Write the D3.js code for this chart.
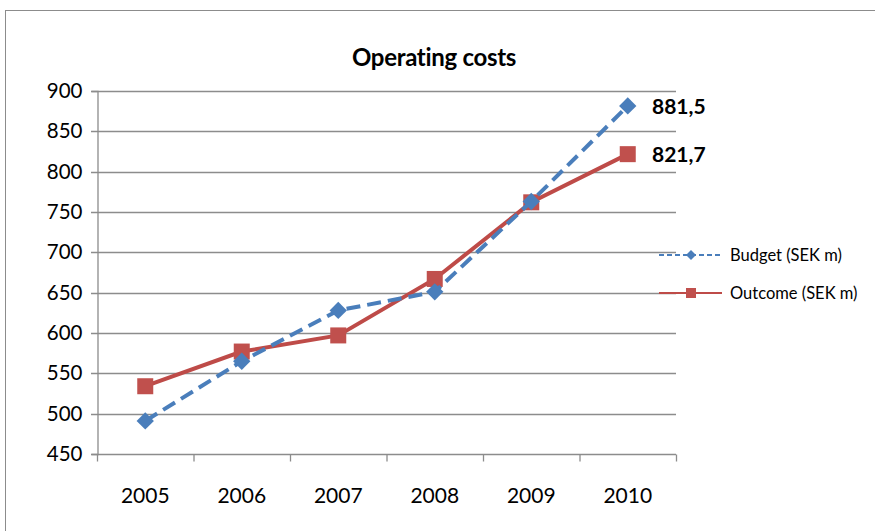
<!DOCTYPE html>
<html>
<head>
<meta charset="utf-8">
<script src="https://cdn.jsdelivr.net/npm/d3@7"></script>
<style>
  body { margin: 0; background: #fff; }
  svg { display: block; font-family: Lato, "Open Sans", sans-serif; }
</style>
</head>
<body>
<svg id="chart" width="875" height="531"></svg>
<script>
// chart data
var years = ['2005', '2006', '2007', '2008', '2009', '2010'];
var budget = [491, 565, 628, 651, 763, 881.5];
var outcome = [534, 577, 597, 667, 762, 821.7];
var yTicks = [450, 500, 550, 600, 650, 700, 750, 800, 850, 900];
var endLabels = ['881,5', '821,7'];

var svg = d3.select('#chart');
var plot = { left: 97, right: 676, top: 91, bottom: 454 };

// outer frame (right and bottom edges sit outside the window)
svg.append('rect')
  .attr('x', 5.5).attr('y', 10.5)
  .attr('width', 900).attr('height', 600)
  .attr('fill', 'none').attr('stroke', '#8c8c8c').attr('stroke-width', 1);

var x = d3.scaleBand().domain(years).range([plot.left, plot.right]);
var y = d3.scaleLinear().domain([450, 900]).range([plot.bottom, plot.top]);

// grid lines
svg.append('g').selectAll('line')
  .data(yTicks)
  .enter().append('line')
  .attr('x1', plot.left - 6).attr('x2', plot.right)
  .attr('y1', function(d) { return Math.round(y(d)) + 0.5; })
  .attr('y2', function(d) { return Math.round(y(d)) + 0.5; })
  .attr('stroke', '#8c8c8c').attr('stroke-width', 1.3);

// y axis
var yAxis = svg.append('g')
  .attr('transform', 'translate(' + (plot.left + 0.5) + ',0)')
  .call(d3.axisLeft(y).tickValues(yTicks).tickSize(6).tickPadding(9));
yAxis.select('.domain').attr('stroke', '#8c8c8c').attr('stroke-width', 1.3);
yAxis.selectAll('.tick line').remove();
yAxis.selectAll('text').attr('font-size', 20.5).attr('fill', '#000')
  .attr('font-family', 'Lato, "Open Sans", sans-serif');

// x axis with ticks at category edges
var xg = svg.append('g')
  .attr('transform', 'translate(0,' + (Math.round(y(450)) + 0.5) + ')');
xg.selectAll('line.edge')
  .data(d3.range(years.length + 1))
  .enter().append('line')
  .attr('class', 'edge')
  .attr('x1', function(i) { return plot.left + i * x.bandwidth() + 0.5; })
  .attr('x2', function(i) { return plot.left + i * x.bandwidth() + 0.5; })
  .attr('y1', 0).attr('y2', 7)
  .attr('stroke', '#8c8c8c').attr('stroke-width', 1.3);
xg.selectAll('text')
  .data(years)
  .enter().append('text')
  .attr('x', function(d) { return x(d) + x.bandwidth() / 2; })
  .attr('y', 48)
  .attr('text-anchor', 'middle')
  .attr('font-size', 21)
  .text(function(d) { return d; });

// title
svg.append('text')
  .attr('x', 434).attr('y', 66)
  .attr('text-anchor', 'middle')
  .attr('font-size', 24).attr('font-weight', 'bold')
  .attr('letter-spacing', -0.3)
  .text('Operating costs');

var cx = function(d, i) { return x(years[i]) + x.bandwidth() / 2; };
var line = d3.line().x(cx).y(function(d) { return y(d); });

var blue = '#4a7ebb', red = '#be4b48';

// outcome series
svg.append('path').datum(outcome)
  .attr('d', line).attr('fill', 'none')
  .attr('stroke', red).attr('stroke-width', 4);
svg.append('g').selectAll('rect')
  .data(outcome)
  .enter().append('rect')
  .attr('x', function(d, i) { return cx(d, i) - 8; })
  .attr('y', function(d) { return y(d) - 8; })
  .attr('width', 16).attr('height', 16)
  .attr('fill', '#c0504d');

// budget series
svg.append('path').datum(budget)
  .attr('d', line).attr('fill', 'none')
  .attr('stroke', blue).attr('stroke-width', 4)
  .attr('stroke-dasharray', '14,7');
var diamond = d3.symbol().type(d3.symbolSquare).size(150);
svg.append('g').selectAll('path')
  .data(budget)
  .enter().append('path')
  .attr('d', diamond)
  .attr('transform', function(d, i) { return 'translate(' + cx(d, i) + ',' + y(d) + ') rotate(45)'; })
  .attr('fill', blue);

// end value labels
svg.selectAll('text.end')
  .data([budget[5], outcome[5]])
  .enter().append('text')
  .attr('class', 'end')
  .attr('x', 652)
  .attr('y', function(d) { return y(d) + 8; })
  .attr('font-size', 21).attr('font-weight', 'bold')
  .text(function(d, i) { return endLabels[i]; });

// legend
var legend = [
  { name: 'Budget (SEK m)', color: blue, dash: '5,3', y: 255, shape: 'diamond' },
  { name: 'Outcome (SEK m)', color: red, dash: null, y: 293, shape: 'square' }
];
var lg = svg.append('g').selectAll('g').data(legend).enter().append('g');
lg.append('line')
  .attr('x1', 659).attr('x2', 722)
  .attr('y1', function(d) { return d.y; }).attr('y2', function(d) { return d.y; })
  .attr('stroke', function(d) { return d.color; })
  .attr('stroke-width', 2)
  .attr('stroke-dasharray', function(d) { return d.dash; });
lg.append('path')
  .attr('d', function(d) {
    return d.shape === 'diamond'
      ? d3.symbol().type(d3.symbolSquare).size(50)()
      : d3.symbol().type(d3.symbolSquare).size(100)();
  })
  .attr('transform', function(d) {
    return 'translate(691,' + d.y + ')' + (d.shape === 'diamond' ? ' rotate(45)' : '');
  })
  .attr('fill', function(d) { return d.shape === 'diamond' ? blue : '#c0504d'; });
lg.append('text')
  .attr('x', 730)
  .attr('y', function(d) { return d.y + 6; })
  .attr('font-size', 16.5)
  .text(function(d) { return d.name; });
</script>
</body>
</html>
